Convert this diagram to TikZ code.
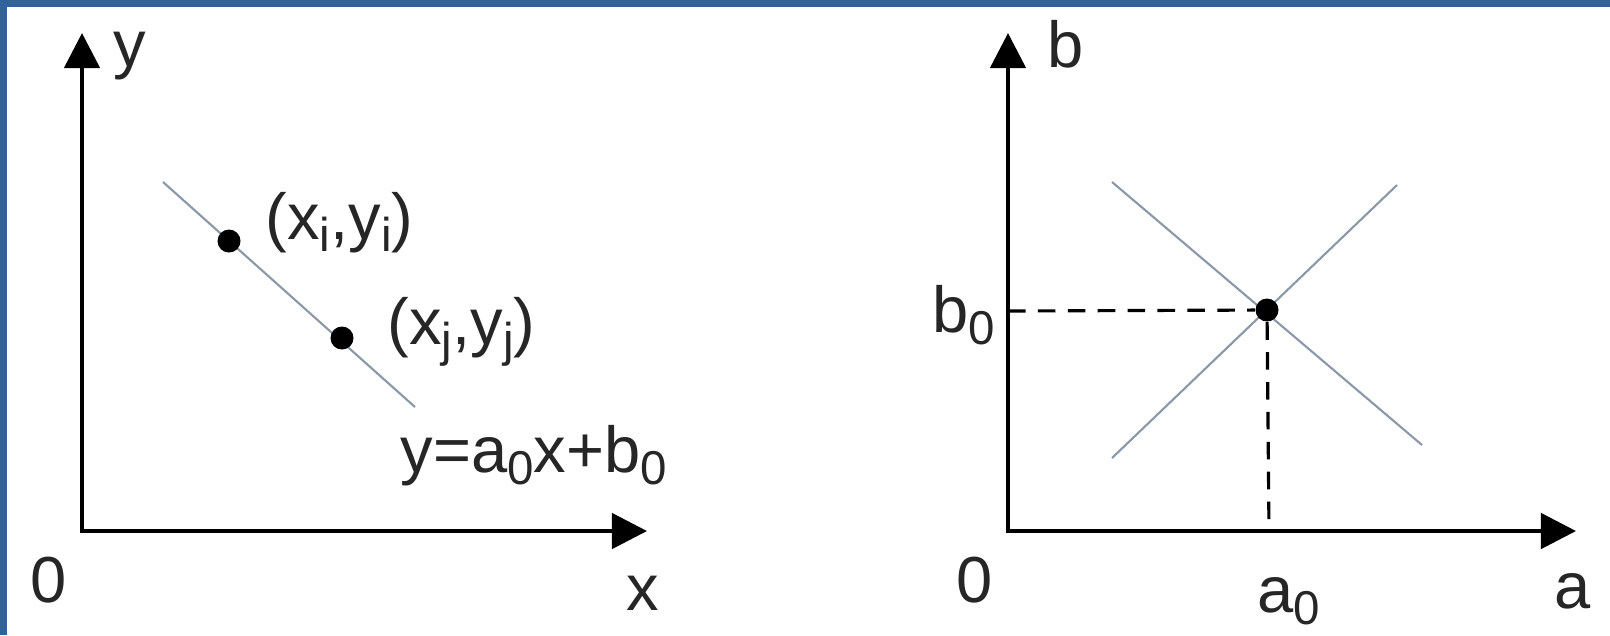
\documentclass[tikz,border=0pt]{standalone}
\usepackage{fontspec}
\setmainfont{Liberation Sans}
\usetikzlibrary{arrows.meta}

\definecolor{frameblue}{RGB}{47,99,153}
\definecolor{fitgray}{RGB}{138,152,168}

% lowered index, as in b0 or xi
\newcommand{\lowidx}[1]{\raisebox{-0.35ex}{\fontsize{13.5}{14}\selectfont #1}}

\begin{document}
\begin{tikzpicture}[
  x=0.01cm, y=-0.01cm,
  font=\fontsize{18.5}{22}\selectfont,
  axis/.style  = {line width=1.3pt,
                  {Triangle[length=10pt,width=10pt]}-{Triangle[length=10pt,width=10pt]}},
  fitln/.style = {draw=fitgray, line width=0.6pt},
  guide/.style = {line width=0.9pt, dash pattern=on 5pt off 3.5pt},
  dot/.style   = {circle, fill=black, inner sep=0pt, minimum size=0.23cm},
  lbl/.style   = {inner sep=0pt, text=black!85},
]

\def\la{82}     % x: left vertical axis
\def\ra{1008}   % x: right vertical axis
\def\base{531}  % y: both horizontal axes
\def\tipy{33}   % y: tips of the vertical axes

% ---- page and blue frame ---------------------------------------------------
\useasboundingbox (0,0) rectangle (1610,635);
\fill[white] (0,0) rectangle (1610,635);
\fill[frameblue] (0,0) rectangle (1610,7);
\fill[frameblue] (0,0) rectangle (7,635);

% ---- left: image space x-y -------------------------------------------------
\coordinate (lo)   at (\la, \base);
\coordinate (ltop) at (\la, \tipy);
\coordinate (lend) at (647, \base);
\draw[axis] (ltop) -- (lo) -- (lend);

\node[lbl, anchor=base west] (ylab) at (113, 66) {y};
\node[lbl] (lzero) at (49, 580) {0};
\node[lbl] (xlab)  at (643, 593) {x};

\coordinate (la1) at (163, 182);
\coordinate (la2) at (415, 407);
\draw[fitln] (la1) -- (la2);

\node[dot] (pi) at (229, 241) {};
\node[dot] (pj) at (342, 338) {};
\node[lbl, anchor=west] (pilab) at (265, 223) {(x\lowidx{i},y\lowidx{i})};
\node[lbl, anchor=west] (pjlab) at (387, 332) {(x\lowidx{j},y\lowidx{j})};
\node[lbl, anchor=base west] (eqn) at (400, 472) {y=a\lowidx{0}x+b\lowidx{0}};

% ---- right: parameter space a-b --------------------------------------------
\coordinate (ro)   at (\ra, \base);
\coordinate (rtop) at (\ra, \tipy);
\coordinate (rend) at (1576, \base);
\draw[axis] (rtop) -- (ro) -- (rend);

\node[lbl, anchor=base west] (blab) at (1047, 67) {b};
\node[lbl] (rzero) at (975, 580) {0};
\node[lbl] (alab)  at (1573, 591) {a};

\coordinate (xa1) at (1112, 182);
\coordinate (xa2) at (1422, 445);
\coordinate (xb1) at (1112, 458);
\coordinate (xb2) at (1397, 185);
\draw[fitln] (xa1) -- (xa2);
\draw[fitln] (xb1) -- (xb2);

\node[dot] (p0) at (1267, 310) {};
\coordinate (b0tick) at (\ra, 311);
\coordinate (a0tick) at (1269, \base);
\draw[guide] (b0tick) -- (p0);
\draw[guide] (p0) -- (a0tick);

\node[lbl, anchor=base west] (b0lab) at (932, 332) {b\lowidx{0}};
\node[lbl, anchor=base west] (a0lab) at (1257, 612) {a\lowidx{0}};

\end{tikzpicture}
\end{document}
